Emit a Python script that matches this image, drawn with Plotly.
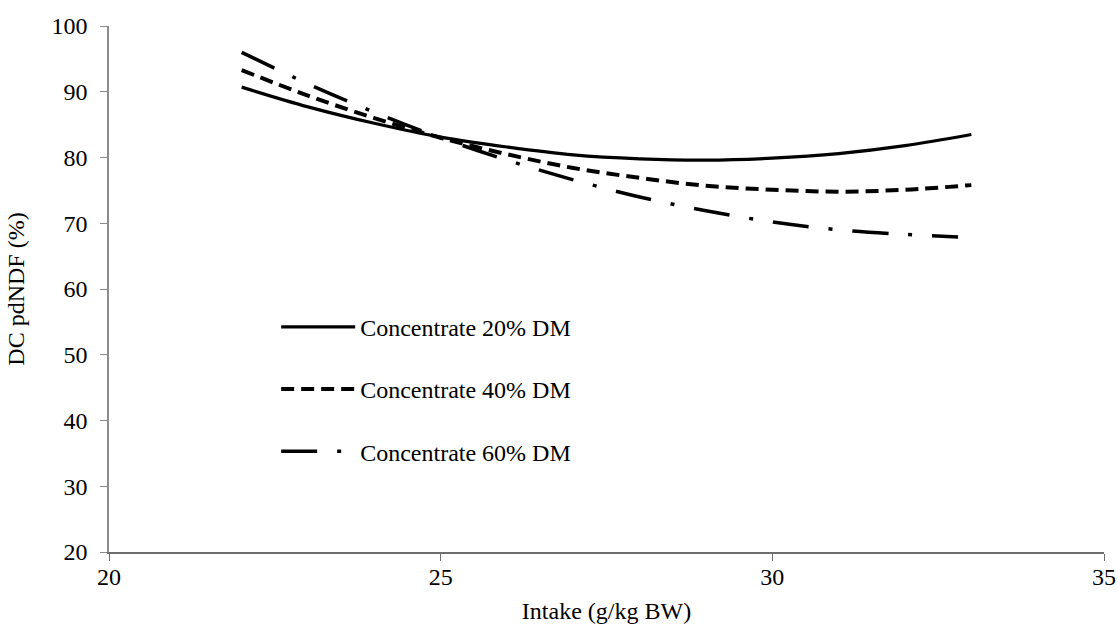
import plotly.graph_objects as go

# Intake (g/kg BW) sample positions and read-off DC pdNDF (%) values
intake_20 = [22, 23, 24, 25, 26, 27, 28, 29, 30, 31, 32, 33]
dc_20 = [90.7, 87.7, 85.2, 83.1, 81.6, 80.4, 79.8, 79.6, 79.9, 80.6, 81.8, 83.5]

intake_40 = [22, 23, 24, 25, 26, 27, 28, 29, 30, 31, 32, 33]
dc_40 = [93.3, 89.4, 86.0, 83.0, 80.5, 78.4, 76.9, 75.7, 75.1, 74.8, 75.1, 75.8]

intake_60 = [22, 23, 24, 25, 26, 27, 28, 29, 30, 31, 32, 32.8]
dc_60 = [96.0, 91.2, 86.9, 83.0, 79.6, 76.6, 74.0, 71.9, 70.2, 69.0, 68.3, 67.9]

names = ["Concentrate 20% DM", "Concentrate 40% DM", "Concentrate 60% DM"]
x_ticks = [20, 25, 30, 35]
y_ticks = [20, 30, 40, 50, 60, 70, 80, 90, 100]

FONT = "Liberation Serif"

fig = go.Figure()
fig.add_trace(go.Scatter(x=intake_20, y=dc_20, mode="lines", name=names[0],
                         line=dict(color="black", width=3.2, shape="spline"),
                         legendgroup="a"))
fig.add_trace(go.Scatter(x=intake_40, y=dc_40, mode="lines", name=names[1],
                         line=dict(color="black", width=4, shape="spline", dash="13px,7px"),
                         legendgroup="b"))
fig.add_trace(go.Scatter(x=intake_60, y=dc_60, mode="lines", name=names[2],
                         line=dict(color="black", width=3.5, shape="spline",
                                   dash="36px,20px,4px,20px"),
                         legendgroup="c"))

fig.update_layout(
    width=1118, height=628,
    margin=dict(l=109, r=14, t=26, b=76),
    paper_bgcolor="white", plot_bgcolor="white",
    font=dict(family=FONT, size=24, color="black"),
    showlegend=True,
    legend=dict(x=0.168, y=0.47, xanchor="left", yanchor="top",
                bgcolor="rgba(0,0,0,0)", itemwidth=74, tracegroupgap=28,
                font=dict(family=FONT, size=24, color="black")),
    xaxis=dict(range=[20, 35], tickvals=x_ticks, showgrid=False, zeroline=False,
               showline=True, linecolor="#6e6e6e", linewidth=1.5,
               ticks="outside", ticklen=7, tickcolor="#6e6e6e",
               ticklabelstandoff=-5, automargin=False,
               title=dict(text="Intake (g/kg BW)", standoff=14,
                          font=dict(family=FONT, size=24))),
    yaxis=dict(range=[20, 100], tickvals=y_ticks, showgrid=False, zeroline=False,
               showline=True, linecolor="#8c8c8c", linewidth=1.5,
               ticks="outside", ticklen=7, tickcolor="#8c8c8c",
               ticklabelstandoff=8, automargin=False,
               title=dict(text="DC pdNDF (%)", standoff=20,
                          font=dict(family=FONT, size=24))),
)

fig.write_html("out.html")
